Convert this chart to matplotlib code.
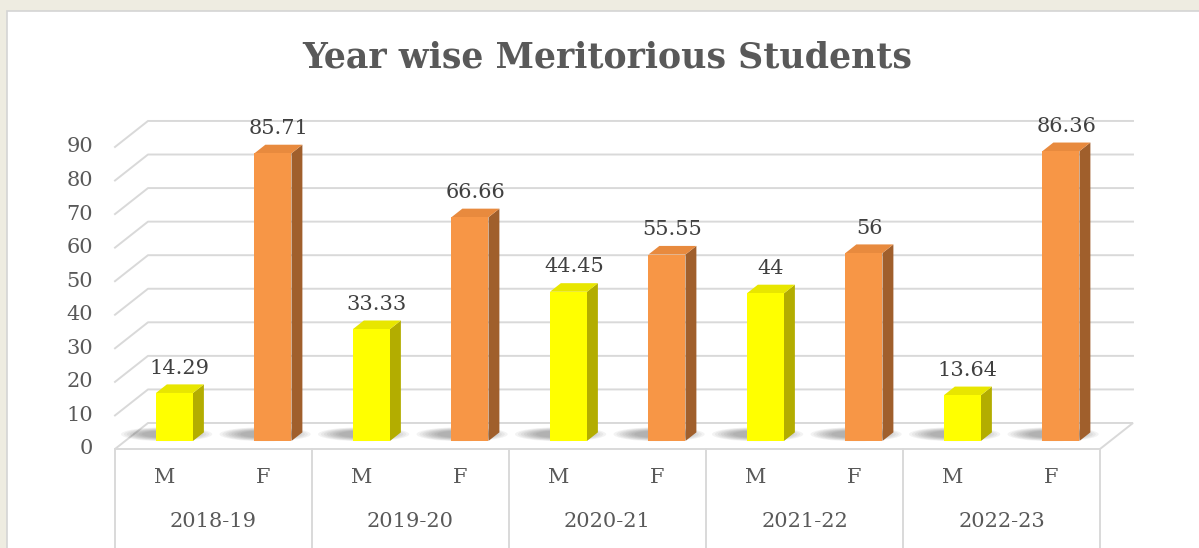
import matplotlib
matplotlib.use("Agg")
from matplotlib import pyplot as plt
from matplotlib.patches import Polygon, Rectangle, Ellipse

years = ['2018-19', '2019-20', '2020-21', '2021-22', '2022-23']
genders = ['M', 'F']
male = [14.29, 33.33, 44.45, 44, 13.64]
female = [85.71, 66.66, 55.55, 56, 86.36]
labels = ['14.29', '85.71', '33.33', '66.66', '44.45', '55.55', '44', '56', '13.64', '86.36']
yticks = [0, 10, 20, 30, 40, 50, 60, 70, 80, 90]

plt.rcParams['font.family'] = ['DejaVu Serif']
TXT = '#595959'
GRID = '#d9d9d9'

# fake 3D depth (data units)
DX, DY = 0.335, 7.75
D0, D1 = 0.31, 0.64
W = 0.376

colors = {
    'M': ('#ffff00', '#b3ad00', '#e8e600'),
    'F': ('#f79646', '#a05f2c', '#e88a3e'),
}

fig = plt.figure(figsize=(11.99, 5.48), dpi=100)
fig.patch.set_facecolor('#eeece1')
fig.patches.append(Rectangle((7 / 1199, -0.1), 1.2, (548 - 11) / 548 + 0.1,
                             transform=fig.transFigure, facecolor='white',
                             edgecolor='#d4d4d4', lw=1.2, zorder=-5))

ax = fig.add_axes([0, 0, 1, 1])
ax.set_facecolor('none')
ax.set_xlim(-115 / 98.5, (1199 - 115) / 98.5)
ax.set_ylim((449 - 548) / 3.356, 449 / 3.356)
ax.axis('off')

n = len(years) * 2
# floor
ax.add_patch(Polygon([(0, 0), (n, 0), (n + DX, DY), (DX, DY)], closed=True,
                     facecolor='white', edgecolor=GRID, lw=1.4, zorder=1))
# wall grid lines
for t in yticks[1:]:
    ax.plot([0, DX, n + DX], [t, t + DY, t + DY], color=GRID, lw=1.4, zorder=1)
    ax.text(-0.22, t, str(t), ha='right', va='center', fontsize=15, color=TXT)
ax.text(-0.22, 0, '0', ha='right', va='center', fontsize=15, color=TXT)

# category table
for g in range(len(years) + 1):
    ax.plot([2 * g, 2 * g], [0, -40], color=GRID, lw=1.4, zorder=1)
for g, yr in enumerate(years):
    ax.text(2 * g + 1, -21.75, yr, ha='center', va='center', fontsize=15, color=TXT)
    for k, gd in enumerate(genders):
        ax.text(2 * g + k + 0.5, -8.64, gd, ha='center', va='center', fontsize=15, color=TXT)

# bars
vals = []
for m, f in zip(male, female):
    vals += [('M', m), ('F', f)]

for i, (gd, v) in enumerate(vals):
    front, side, top = colors[gd]
    x0 = i + 0.5 - W / 2 + D0 * DX
    x1 = x0 + W
    yb = D0 * DY
    yt = v + D0 * DY
    ddx, ddy = (D1 - D0) * DX, (D1 - D0) * DY
    # soft shadow on the floor
    for s in range(8):
        ax.add_patch(Ellipse((x0 + W / 2 - 0.08, yb + 2.0), W + 0.55 - s * 0.06, 4.2 - s * 0.3,
                             facecolor='#3a3a3a', alpha=0.06, lw=0, zorder=2))
    ax.bar(x0, v, width=W, bottom=yb, align='edge', color=front, zorder=4)
    ax.add_patch(Polygon([(x1, yb), (x1 + ddx, yb + ddy), (x1 + ddx, yt + ddy), (x1, yt)],
                         closed=True, facecolor=side, lw=0, zorder=3))
    ax.add_patch(Polygon([(x0, yt), (x1, yt), (x1 + ddx, yt + ddy), (x0 + ddx, yt + ddy)],
                         closed=True, facecolor=top, lw=0, zorder=3))
    ax.text((x0 + x1) / 2 + ddx / 2, yt + ddy + 2.0, labels[i], ha='center', va='bottom',
            fontsize=15, color='#404040', zorder=5)

fig.text(607 / 1199, 1 - 58 / 548, 'Year wise Meritorious Students', ha='center', va='center',
         fontsize=25, fontweight='bold', color=TXT)

fig.savefig('out.png', dpi=100, facecolor=fig.get_facecolor())
